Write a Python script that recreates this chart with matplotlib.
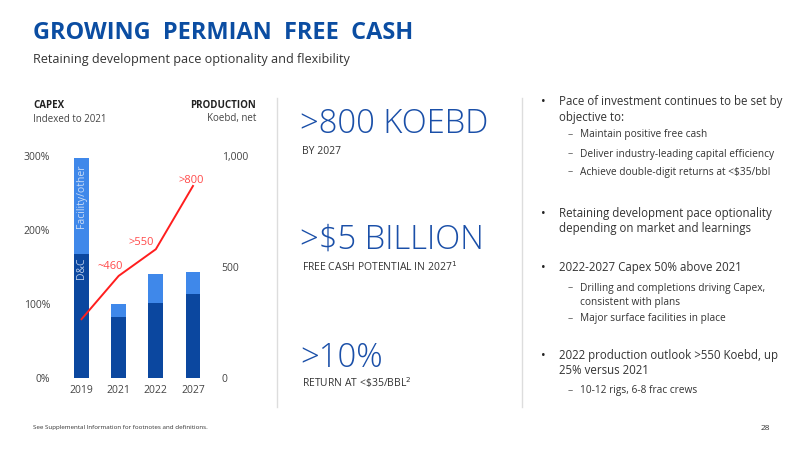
import matplotlib.pyplot as plt
import numpy as np

plt.rcParams['font.family'] = ['Open Sans', 'DejaVu Sans']

years = ['2019', '2021', '2022', '2027']
dc_capex = [168, 82, 101, 114]          # % of 2021, D&C part
total_capex = [297, 100, 141, 143]      # % of 2021, full bar
facility_capex = [t - d for t, d in zip(total_capex, dc_capex)]
production = [265, 460, 580, 865]       # Koebd, net
prod_labels = ['', '~460', '>550', '>800']

DARK = '#0b479f'
LIGHT = '#3f88ea'
RED = '#ff1e1e'
TITLE_BLUE = '#0b4da2'
GREY = '#444444'

W, H = 800, 450
fig = plt.figure(figsize=(8, 4.5), dpi=100)


def px(x, y):
    return x / W, 1 - y / H


def txt(x, y, s, **kw):
    kw.setdefault('va', 'center')
    kw.setdefault('ha', 'left')
    fig.text(*px(x, y), s, **kw)


# chart area
ax = fig.add_axes([61.1 / W, 1 - 378 / H, 152.3 / W, 222 / H])
x = np.arange(len(years))
ax.bar(x, dc_capex, width=0.4, color=DARK, zorder=2)
ax.bar(x, facility_capex, width=0.4, bottom=dc_capex, color=LIGHT, zorder=2)
ax.set_xlim(-0.55, 3.55)
ax.set_ylim(0, 300)
ax.set_yticks([0, 100, 200, 300])
ax.set_yticklabels(['0%', '100%', '200%', '300%'])
ax.set_xticks(x)
ax.set_xticklabels(years)
ax.tick_params(length=0, labelsize=7.5, colors=GREY)
ax.tick_params(axis='y', pad=8)
ax.tick_params(axis='x', pad=5)
for s in ax.spines.values():
    s.set_visible(False)

ax.text(0, 245, 'Facility/other', rotation=90,
        ha='center', va='center', color='#c9dbf5', fontsize=7.5, zorder=3)
ax.text(0, dc_capex[0] - 5, 'D&C', rotation=90, ha='center', va='top',
        color='#b9cbe8', fontsize=7.5, zorder=3)

ax2 = ax.twinx()
ax2.set_ylim(0, 1000)
ax2.plot(x, production, color=RED, lw=1.4, zorder=4)
ax2.set_yticks([0, 500, 1000])
ax2.set_yticklabels(['0', '500', '1,000'])
ax2.tick_params(length=0, labelsize=7.5, colors=GREY, pad=6)
for s in ax2.spines.values():
    s.set_visible(False)
offsets = [(0, 0), (-0.23, 18), (-0.4, 5), (-0.05, 0)]
for xi, val, lab, (dx, dy) in zip(x, production, prod_labels, offsets):
    if lab:
        ax2.text(xi + dx, val + dy, lab, color='#ff4a4a', fontsize=8,
                 ha='center', va='bottom')

# chart headers
txt(33, 106, 'CAPEX', fontsize=7, fontweight='bold', color='#222222')
txt(33, 119, 'Indexed to 2021', fontsize=7, color=GREY)
txt(256, 106, 'PRODUCTION', fontsize=7, fontweight='bold', color='#222222', ha='right')
txt(256, 119, 'Koebd, net', fontsize=7, color=GREY, ha='right')

# title
txt(33, 33, 'GROWING  PERMIAN  FREE  CASH', fontsize=16.9, fontweight='bold', color=TITLE_BLUE)
txt(33, 59, 'Retaining development pace optionality and flexibility', fontsize=9.1, color='#333333')

# dividers
for xl in (277, 522):
    fig.add_artist(plt.Line2D([xl / W, xl / W], [1 - 98 / H, 1 - 407 / H],
                              color='#dddddd', lw=1))

# middle column
big = [('>800 KOEBD', 'BY 2027', 122, 152),
       ('>$5 BILLION', 'FREE CASH POTENTIAL IN 2027$^1$', 238, 267),
       ('>10%', 'RETURN AT <\\$35/BBL$^2$', 356, 383)]
for head, sub, yh, ys in big:
    txt(300, yh + 2, head, fontsize=23.6, fontweight='light', color='#1a4fa8')
    txt(302, ys, sub, fontsize=7.5, color='#333333')

# right column bullets
bullets = [
    (102, 'Pace of investment continues to be set by', True),
    (117, 'objective to:', None),
    (135, 'Maintain positive free cash', False),
    (154, 'Deliver industry-leading capital efficiency', False),
    (172, 'Achieve double-digit returns at <$35/bbl', False),
    (213, 'Retaining development pace optionality', True),
    (228, 'depending on market and learnings', None),
    (268, '2022-2027 Capex 50% above 2021', True),
    (288, 'Drilling and completions driving Capex,', False),
    (302, 'consistent with plans', 'cont'),
    (319, 'Major surface facilities in place', False),
    (356, '2022 production outlook >550 Koebd, up', True),
    (371, '25% versus 2021', None),
    (391, '10-12 rigs, 6-8 frac crews', False),
]
for y, s, kind in bullets:
    if kind is True or kind is None:
        if kind:
            txt(541, y, '\u2022', fontsize=9, color='#222222')
        txt(559, y, s, fontsize=8.3, color='#333333')
    else:
        if kind is False:
            txt(568, y, '\u2013', fontsize=7.5, color='#555555')
        txt(580, y, s, fontsize=7.3, color='#333333')

# footer
txt(33, 428, 'See Supplemental Information for footnotes and definitions.', fontsize=4.5, color='#333333')
txt(770, 428, '28', fontsize=6, color='#333333', ha='right')

fig.savefig('out.png', dpi=100)
